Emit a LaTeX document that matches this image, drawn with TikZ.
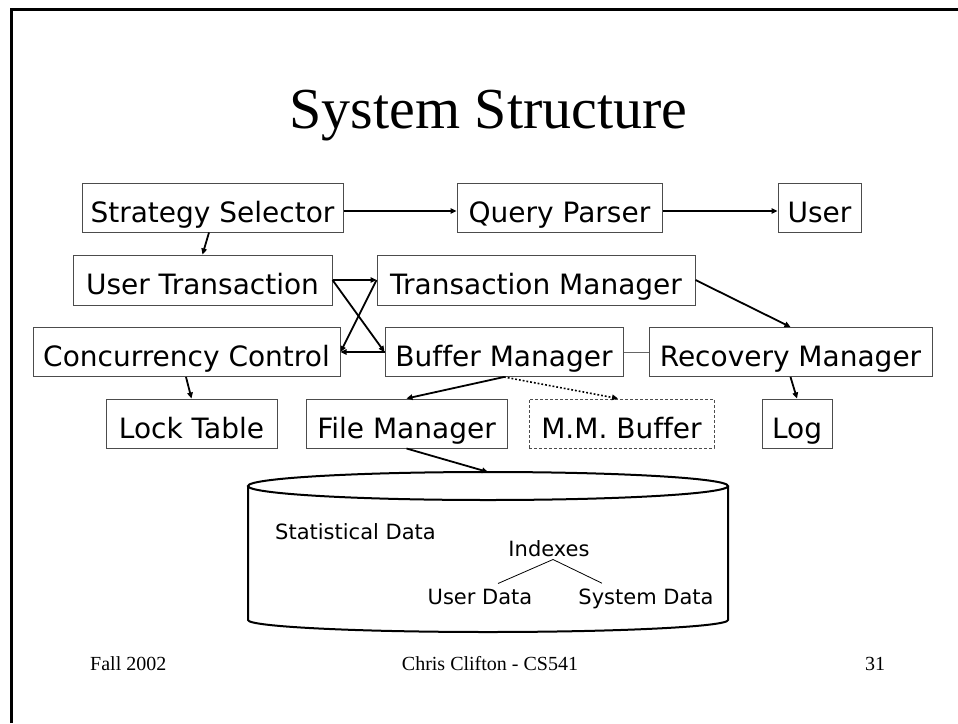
\documentclass[tikz,border=0pt]{standalone}
\usepackage{fontspec}
\setmainfont{Liberation Serif}
\newfontfamily\boxfont[Ligatures=NoCommon]{DejaVu Sans}
\usetikzlibrary{arrows.meta}
\begin{document}
\begin{tikzpicture}[x=1pt,y=-1pt,
  comp/.style={draw=black!70, line width=1pt, inner sep=0pt, minimum height=49pt,
    text height=29pt, text depth=0pt,
    font=\boxfont\fontsize{28}{30}\selectfont},
  conn/.style={line width=1.8pt, -{Triangle[length=6pt,width=5.5pt]}},
  dbtext/.style={inner sep=0pt, font=\boxfont\fontsize{21}{24}\selectfont},
  foot/.style={inner sep=0pt, font=\fontsize{20}{22}\selectfont}]
\useasboundingbox (0,0) rectangle (958,723);
\fill[white] (0,0) rectangle (958,723);
% slide frame
\draw[line width=3pt, black] (11,723) -- (11,9) -- (958,9);
% title
\node[inner sep=0pt, anchor=base, font=\fontsize{58}{62}\selectfont] (title) at (488.5,128) {System Structure};
% components
\node[comp, minimum width=261pt] (ss) at (212.5,207.5) {Strategy Selector};
\node[comp, minimum width=205pt] (qp) at (559.5,207.5) {Query Parser};
\node[comp, minimum width=83pt] (user) at (819.5,207.5) {User};
\node[comp, minimum width=259pt, minimum height=50pt] (ut) at (202.5,280) {User Transaction};
\node[comp, minimum width=318pt, minimum height=50pt] (tm) at (536,280) {Transaction Manager};
\node[comp, minimum width=307pt] (cc) at (186.5,352) {Concurrency Control};
\node[comp, minimum width=238pt] (bm) at (504,352) {Buffer Manager};
\node[comp, minimum width=283pt] (rm) at (790.5,352) {Recovery Manager};
\node[comp, minimum width=171pt] (lt) at (191.5,423.5) {Lock Table};
\node[comp, minimum width=201pt] (fm) at (406.5,423.5) {File Manager};
\node[comp, minimum width=185pt, dashed, dash pattern=on 3pt off 2pt] (mm) at (621.5,423.5) {M.M. Buffer};
\node[comp, minimum width=70pt] (log) at (797,423.5) {Log};
% database cylinder
\draw[line width=2pt] (488,486) ellipse [x radius=240pt, y radius=14pt];
\draw[line width=2pt] (248,486) -- (248,620)
  .. controls (248,626.6) and (355.5,632) .. (488,632)
  .. controls (620.5,632) and (728,626.6) .. (728,620) -- (728,486);
\coordinate (dbtop) at (488,472);
\node[dbtext, anchor=base west] (stat) at (275,539) {Statistical Data};
\node[dbtext, anchor=base] (idx) at (549,556) {Indexes};
\node[dbtext, anchor=base] (ud) at (480,604) {User Data};
\node[dbtext, anchor=base] (sd) at (646,604) {System Data};
\draw[line width=0.8pt] ([xshift=4pt,yshift=-3pt]idx.south) -- ([xshift=18pt,yshift=5pt]ud.north);
\draw[line width=0.8pt] ([xshift=4pt,yshift=-3pt]idx.south) -- ([xshift=-44pt,yshift=5pt]sd.north);
% connectors
\draw[conn, line width=1.3pt] ([yshift=-3.5pt]ss.east) -- ([yshift=-3.5pt]qp.west);
\draw[conn, line width=1.3pt] ([yshift=-3.5pt]qp.east) -- ([yshift=-3.5pt]user.west);
\draw[conn] ([xshift=-3.5pt]ss.south) -- (ut.north);
\draw[conn] (ut.east) -- (tm.west);
\draw[conn] (ut.east) -- (bm.west);
\draw[conn] (tm.west) -- (cc.east);
\draw[conn] (bm.west) -- (cc.east);
\draw[conn] (tm.east) -- (rm.north);
\draw[line width=1pt, black!60] (bm.east) -- (rm.west);
\draw[conn] ([xshift=-0.5pt]cc.south) -- (lt.north);
\draw[conn] (bm.south) -- (fm.north);
\draw[conn, dotted, line width=1.6pt] (bm.south) -- ([xshift=-3.5pt]mm.north);
\draw[conn] (rm.south) -- (log.north);
\draw[conn] (fm.south) -- (dbtop);
% footer
\node[foot, anchor=base west] (f1) at (90,670) {Fall 2002};
\node[foot, anchor=base] (f2) at (490,670) {Chris Clifton - CS541};
\node[foot, anchor=base] (f3) at (875,670) {31};
\end{tikzpicture}
\end{document}
